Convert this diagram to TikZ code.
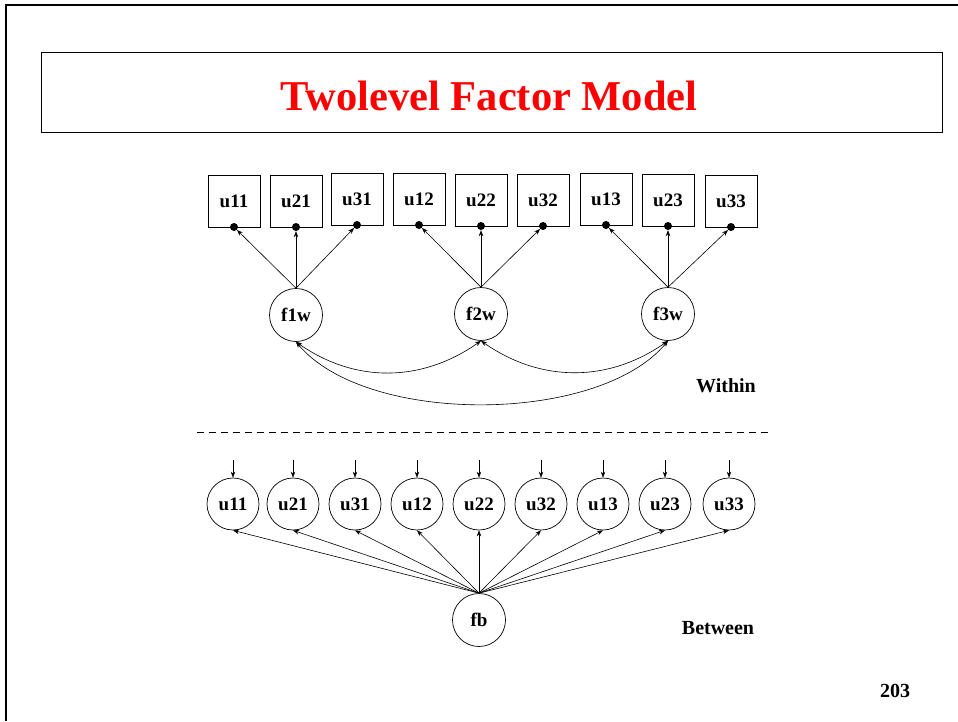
\documentclass[tikz,border=0pt]{standalone}
\usepackage{fontspec}
\setmainfont{Liberation Serif}
\usetikzlibrary{arrows.meta}
\begin{document}
\begin{tikzpicture}[x=1pt,y=-1pt,
  obs/.style={draw,line width=0.7pt,minimum width=52pt,minimum height=52pt,inner sep=0pt,font=\fontsize{19}{21}\selectfont\bfseries},
  lat/.style={draw,circle,line width=0.7pt,minimum size=53pt,inner sep=0pt,font=\fontsize{19}{21}\selectfont\bfseries},
  dotn/.style={circle,fill,inner sep=0pt,minimum size=8pt},
  arr/.style={line width=0.6pt,-{Stealth[length=6pt,width=4.5pt]}},
  darr/.style={line width=0.6pt,{Stealth[length=6pt,width=4.5pt]}-{Stealth[length=6pt,width=4.5pt]}},
  lab/.style={font=\fontsize{20}{22}\selectfont\bfseries}]
\useasboundingbox (0,0) rectangle (958,721);
% slide frame
\draw[line width=2.2pt] (6,721) -- (6,5) -- (958,5);
% title
\node[draw,line width=0.9pt,minimum width=901pt,minimum height=80pt,inner sep=0pt] (titlebox) at (491.5,92) {};
\node[text=red,font=\fontsize{42.5}{44}\selectfont\bfseries] (title) at (489,96) {Twolevel Factor Model};
% within observed
\foreach \n/\x/\y in {u11/234/201,u21/296/201,u31/357/199,u12/419/199,u22/481/200,u32/543/200,u13/606/199,u23/668/200,u33/731/201}{
  \node[obs] (w\n) at (\x,\y) {\n};
  \node[dotn] (d\n) at (\x,\y+26) {};
}
\node[lat] (f1w) at (296,315) {f1w};
\node[lat] (f2w) at (481,314) {f2w};
\node[lat] (f3w) at (668,314) {f3w};
\foreach \f/\a/\b/\c in {f1w/u11/u21/u31,f2w/u12/u22/u32,f3w/u13/u23/u33}{
  \draw[arr] (\f.north) -- (d\a.south east);
  \draw[arr] (\f.north) -- (d\b.south);
  \draw[arr] (\f.north) -- (d\c.south west);
}
\draw[darr] (f1w.south) to[out=-35,in=-145] (f2w.south);
\draw[darr] (f2w.south) to[out=-35,in=-145] (f3w.south);
\draw[darr] (f1w.south) to[out=-50,in=-130,looseness=0.75] (f3w.south);
\node[lab] (within) at (726,386) {Within};
% dashed separator
\coordinate (dl) at (197,432);
\coordinate (dr) at (771,432);
\draw[dashed,dash pattern=on 7pt off 5pt,line width=0.6pt] (dl) -- (dr);
% between
\node[lat] (fb) at (479,620) {fb};
\foreach \n/\x in {u11/233,u21/293,u31/355,u12/417,u22/479,u32/541,u13/603,u23/665,u33/729}{
  \node[lat,minimum size=52pt] (b\n) at (\x,504) {\n};
  \coordinate (t\n) at (\x,460);
  \draw[arr] (t\n) -- (b\n.north);
  \draw[arr] (fb.north) -- (b\n.south);
}
\node[lab] (between) at (718,628) {Between};
\node[lab] (page) at (895,691) {203};
\end{tikzpicture}
\end{document}
